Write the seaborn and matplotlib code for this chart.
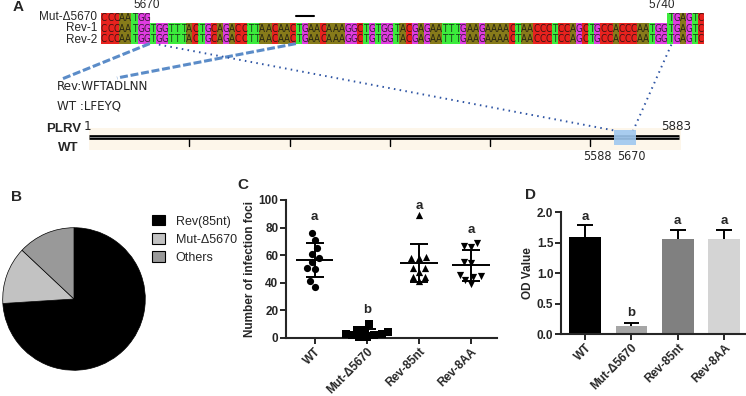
import numpy as np
import pandas as pd
import matplotlib
matplotlib.use("Agg")
import matplotlib.pyplot as plt
import seaborn as sns
from matplotlib.patches import Rectangle, Patch
from matplotlib import font_manager
from matplotlib.font_manager import FontProperties

# ---------------- data ----------------
rev_seq = "CCCAATGGTGGTTTACTGCAGACCTTAACAACTGAACAAAGGCTGTGGTACGAGAATTTGAAGAAAACTAACCCTCCAGCTGCCACCCAATGGTGAGTC"
mut_head = "CCCAATGG"
mut_tail = "TGAGTC"
seq_rows = ["Mut-Δ5670", "Rev-1", "Rev-2"]
seq_pos_labels = ["5670", "5740"]
seq_pos_index = [7.0, 91.5]
stop_codon_index = [32, 35]
rev_protein = "Rev:WFTADLNN"
wt_protein = "WT :LFEYQ"
genome_name = ["PLRV", "WT"]
genome_len = 5883
genome_ticks = [1000, 2000, 3000, 4000, 5000]
region_labels = ["5588", "5670"]

pie_labels = ["Rev(85nt)", "Mut-Δ5670", "Others"]
pie_values = [74, 13, 13]
pie_colors = ["#000000", "#c2c2c2", "#999999"]

groups = ["WT", "Mut-Δ5670", "Rev-85nt", "Rev-8AA"]
foci_wt = [76, 71, 65, 61, 58, 55, 51, 50, 41, 37]
foci_mut = [10, 6, 6, 4, 3, 3, 2, 2, 1, 1]
foci_rev85 = [89, 58, 58, 59, 51, 51, 48, 44, 44, 41]
foci_rev8 = [67, 66, 69, 54, 55, 44, 46, 45, 39, 42]
foci_markers = ["o", "s", "^", "v"]
foci_letters = ["a", "b", "a", "a"]
foci_letter_y = [88, 20, 96, 78]

od_mean = [1.60, 0.14, 1.57, 1.56]
od_err = [0.20, 0.05, 0.14, 0.15]
od_letters = ["a", "b", "a", "a"]
od_letter_y = [1.93, 0.35, 1.86, 1.86]
od_colors = ["#000000", "#a6a6a6", "#808080", "#d4d4d4"]

# ---------------- style ----------------
sns.set_style("ticks")
plt.rcParams["font.family"] = ["Liberation Sans", "DejaVu Sans"]


def find_narrow():
    best = None
    for f in font_manager.fontManager.ttflist:
        nm = f.name.lower()
        st = str(f.stretch).lower()
        if ("narrow" in nm or "condensed" in nm or "condensed" in st) and f.style == "normal":
            w = f.weight
            try:
                w = int(w)
            except Exception:
                w = 400 if str(w).lower() in ("normal", "regular", "book") else 700
            if w <= 500:
                if best is None or "liberation" in nm:
                    best = f
    return best


nf = find_narrow()
if nf is not None:
    seq_fp = FontProperties(fname=nf.fname, size=7.0)
    nar_fp = lambda s: FontProperties(fname=nf.fname, size=s)
else:
    seq_fp = FontProperties(family="Liberation Sans", size=5.7)
    nar_fp = lambda s: FontProperties(family="Liberation Sans", size=s * 0.9)

W, H = 746, 396
fig = plt.figure(figsize=(W / 100, H / 100), dpi=100)

ov = fig.add_axes([0, 0, 1, 1])
ov.set_xlim(0, W)
ov.set_ylim(H, 0)
ov.axis("off")
ov.patch.set_alpha(0)

# ---------------- panel A ----------------
x0, cw = 101.0, 6.09
row_top = [12.7, 23.0, 33.3]
rh = 10.3
base_col = {"C": "#e8221e", "A": "#877b1a", "T": "#3cec3c", "G": "#e03ce0"}


def draw_seq(seq, start, top):
    for i, ch in enumerate(seq):
        x = x0 + (start + i) * cw
        ov.add_patch(Rectangle((x, top), cw + 0.05, rh, facecolor=base_col[ch], lw=0))
        ov.text(x + cw / 2, top + rh / 2 + 0.4, ch, ha="center", va="center",
                fontproperties=seq_fp, color="#111111", alpha=0.8)


draw_seq(mut_head, 0, row_top[0])
draw_seq(mut_tail, len(rev_seq) - len(mut_tail), row_top[0])
draw_seq(rev_seq, 0, row_top[1])
draw_seq(rev_seq, 0, row_top[2])

# row labels as one multi-line text block, lines spaced like the rows
ov.text(97, row_top[1] + rh / 2 + 0.3, "\n".join(seq_rows), ha="right", va="center",
        multialignment="right", fontsize=8.5, linespacing=0.93)
for lab, idx in zip(seq_pos_labels, seq_pos_index):
    ov.text(x0 + (idx + 0.5) * cw, 5, lab, ha="center", va="center", fontsize=8.5)

ov.plot([x0 + stop_codon_index[0] * cw, x0 + stop_codon_index[1] * cw], [16, 16], color="black", lw=1.5)

seq_bottom = row_top[2] + rh
dash_col = "#5b8cc8"
ov.plot([x0 + len(mut_head) * cw, 62], [seq_bottom, 79], color=dash_col, lw=2.2, ls=(0, (2.6, 0.9)))
ov.plot([x0 + stop_codon_index[0] * cw, 117], [seq_bottom, 78], color=dash_col, lw=2.2, ls=(0, (2.6, 0.9)))

g_x0, g_x1, g_y = 89, 679, 137
box_x0, box_x1 = 614, 636
ov.add_patch(Rectangle((g_x0, 128), g_x1 - g_x0 + 2, 22, facecolor="#fdf6ea", lw=0))
dot_col = "#2f55a4"
ov.plot([x0 + 9.5 * cw, box_x0 + 3], [seq_bottom + 1, 131], color=dot_col, lw=1.4, ls=(0, (0.8, 2.2)))
ov.plot([x0 + (len(rev_seq) - len(mut_tail)) * cw + 4, box_x1 - 3], [seq_bottom + 1, 131], color=dot_col, lw=1.4, ls=(0, (0.8, 2.2)))

ov.text(57, 87, rev_protein, ha="left", va="center", fontproperties=nar_fp(9.5))
ov.text(57, 106, wt_protein, ha="left", va="center", fontproperties=nar_fp(9.5))

ov.plot([g_x0, g_x1], [g_y, g_y], color="black", lw=3.4, solid_capstyle="butt")
ov.plot([g_x0, g_x1], [g_y, g_y], color="#9a9a9a", lw=0.6, solid_capstyle="butt")
for t in genome_ticks:
    tx = g_x0 + t / genome_len * (g_x1 - g_x0)
    ov.plot([tx, tx], [g_y + 2, g_y + 9], color="black", lw=1.0)
ov.add_patch(Rectangle((box_x0, 130), box_x1 - box_x0, 15, facecolor="#9fc8f0", lw=0, alpha=0.9, zorder=3))
ov.text(81, 129, genome_name[0], ha="right", va="center", fontsize=9.5, fontweight="bold")
ov.text(84, 127, "1", ha="left", va="center", fontproperties=nar_fp(9.5))
ov.text(78, 148, genome_name[1], ha="right", va="center", fontsize=9.5, fontweight="bold")
ov.text(676, 126, str(genome_len), ha="center", va="center", fontproperties=nar_fp(9.5))
ov.text(612, 156, region_labels[0], ha="right", va="center", fontproperties=nar_fp(9))
ov.text(617, 156, region_labels[1], ha="left", va="center", fontproperties=nar_fp(9))

for lab, (px, py) in zip("ABCD", [(18, 7), (17, 197), (243, 185), (531, 195)]):
    ov.text(px, py, lab, ha="center", va="center", fontsize=11, fontweight="bold")

# ---------------- panel B (pie) ----------------
ax_b = fig.add_axes([2 / W, 1 - 371 / H, 144 / W, 144 / H])
ax_b.pie(pie_values, colors=pie_colors, startangle=90, counterclock=False,
         wedgeprops=dict(edgecolor="black", linewidth=0.5))
ax_b.set_xlim(-1.01, 1.01)
ax_b.set_ylim(-1.01, 1.01)
handles = [Patch(facecolor=c, edgecolor="black", linewidth=0.8) for c in pie_colors]
ax_b.legend(handles, pie_labels, loc="upper left", bbox_to_anchor=(152 / W, 1 - 215 / H),
            bbox_transform=fig.transFigure, frameon=False, fontsize=9,
            handlelength=1.0, handleheight=0.9, labelspacing=0.45, handletextpad=0.9,
            borderpad=0, borderaxespad=0)

# ---------------- panel C (scatter) ----------------
ax_c = fig.add_axes([286 / W, 1 - 338 / H, (497 - 286) / W, 138 / H])
foci_all = [foci_wt, foci_mut, foci_rev85, foci_rev8]
df_foci = pd.DataFrame({"group": np.repeat(groups, [len(v) for v in foci_all]),
                        "foci": np.concatenate(foci_all)})
for g, m in zip(groups, foci_markers):
    sns.swarmplot(data=df_foci[df_foci.group == g], x="group", y="foci", order=groups,
                  marker=m, color="black", size=5.2, ax=ax_c, linewidth=0)
for c in ax_c.collections:
    c.set_clip_on(False)
for i, vals in enumerate(foci_all):
    mu, sd = np.mean(vals), np.std(vals, ddof=1)
    ax_c.hlines(mu, i - 0.36, i + 0.36, color="black", lw=1.4, zorder=4)
    ax_c.hlines([mu - sd, mu + sd], i - 0.17, i + 0.17, color="black", lw=1.4, zorder=4)
    ax_c.vlines(i, mu - sd, mu + sd, color="black", lw=1.4, zorder=4)
    ax_c.text(i, foci_letter_y[i], foci_letters[i], ha="center", va="center", fontsize=9.5, fontweight="bold")
ax_c.set_xlim(-0.55, 3.5)
ax_c.set_ylim(0, 100)
ax_c.set_yticks(range(0, 101, 20))
ax_c.set_xlabel("")
ax_c.set_ylabel("Number of infection foci", fontsize=8.5, fontweight="bold", labelpad=2)

# ---------------- panel D (bars) ----------------
ax_d = fig.add_axes([561 / W, 1 - 334.3 / H, (745 - 561) / W, 122 / H])
sns.barplot(x=groups, y=od_mean, hue=groups, palette=od_colors, legend=False,
            width=0.68, linewidth=0, ax=ax_d)
xs = np.arange(len(groups))
tops = np.array(od_mean) + np.array(od_err)
ax_d.vlines(xs, od_mean, tops, color="black", lw=1.4)
ax_d.hlines(tops, xs - 0.17, xs + 0.17, color="black", lw=1.4)
for i in xs:
    ax_d.text(i, od_letter_y[i], od_letters[i], ha="center", va="center", fontsize=9.5, fontweight="bold")
ax_d.set_xlim(-0.52, 3.45)
ax_d.set_ylim(0, 2.0)
ax_d.set_yticks(np.arange(0, 2.01, 0.5))
ax_d.set_yticklabels([f"{v:.1f}" for v in np.arange(0, 2.01, 0.5)])
ax_d.set_ylabel("OD Value", fontsize=8.5, fontweight="bold", labelpad=2)

for ax in (ax_c, ax_d):
    sns.despine(ax=ax)
    for s in ("left", "bottom"):
        ax.spines[s].set_linewidth(1.5)
    ax.tick_params(axis="both", width=1.4, length=4, pad=1.5, labelsize=8.5, direction="out")
    ax.set_xticks(range(len(groups)))
    ax.set_xticklabels(groups, rotation=45, ha="right", rotation_mode="anchor", fontweight="bold")
    for lbl in ax.get_yticklabels():
        lbl.set_fontweight("bold")
    ax.patch.set_alpha(0)

fig.savefig("out.png", dpi=100)
